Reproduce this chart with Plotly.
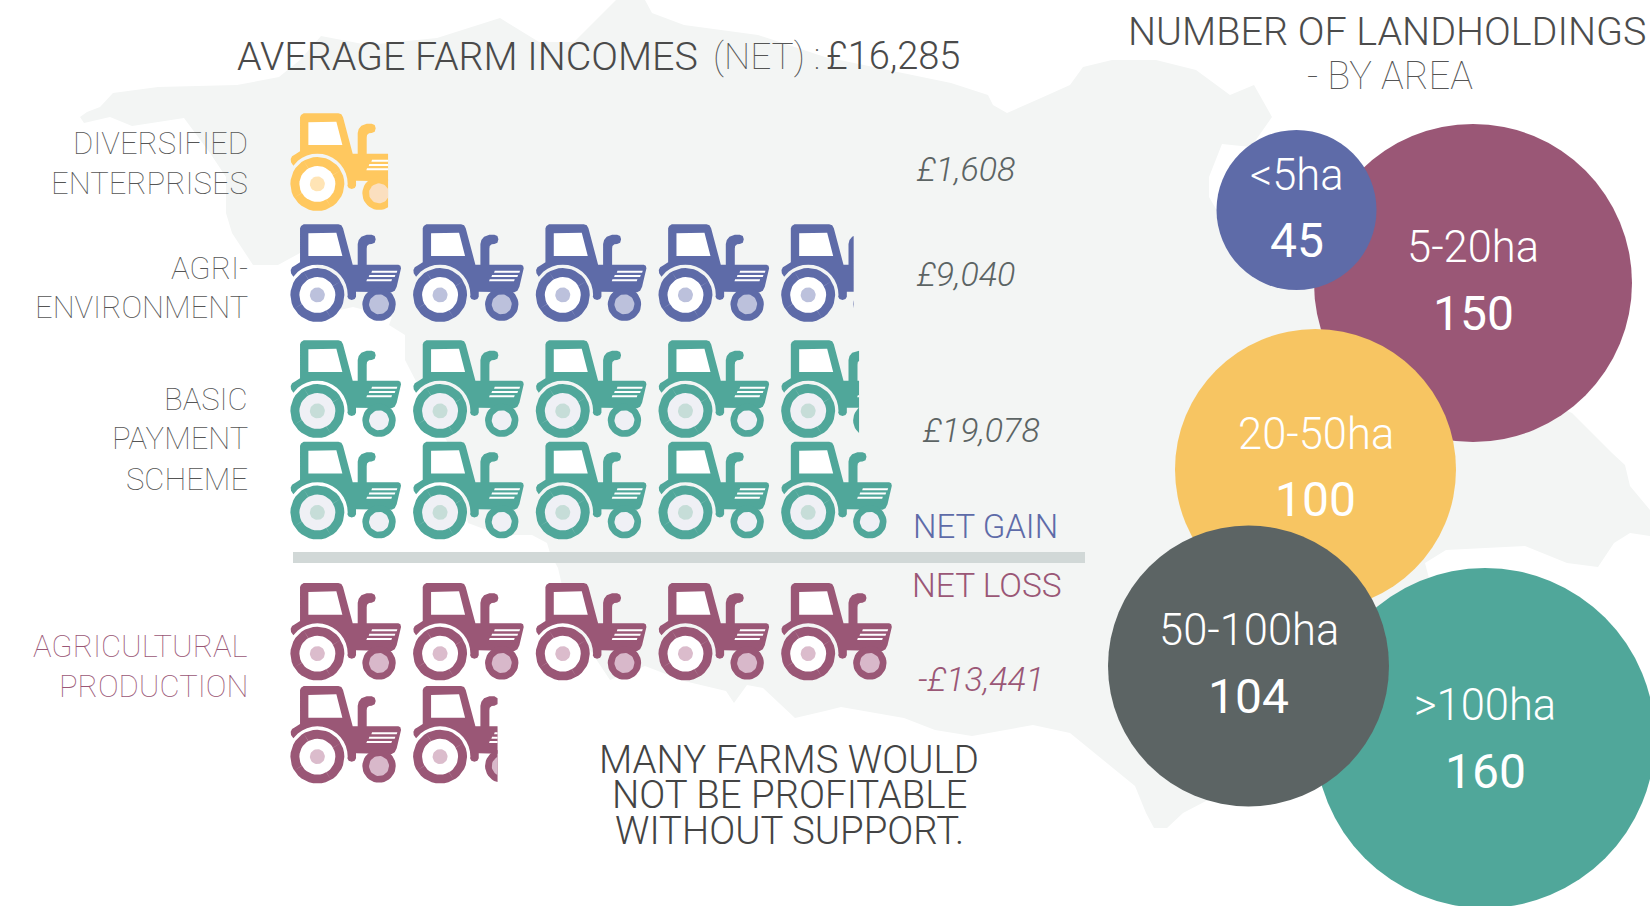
import math
import plotly.graph_objects as go

# ---------- data ----------
income_categories = ["Diversified enterprises", "Agri-environment", "Basic payment scheme", "Agricultural production"]
income_labels = ["£1,608", "£9,040", "£19,078", "-£13,441"]
# tractors drawn in each pictogram row (category index, count)
row_category = [0, 1, 2, 2, 3, 3]
row_tractors = [0.885, 4.656, 4.705, 5, 5, 1.765]

holding_labels = ["5-20ha", "<5ha", "20-50ha", ">100ha", "50-100ha"]
holding_values = [150, 45, 100, 160, 104]

# ---------- layout / style ----------
W, H = 1650, 906
MAP = "#f3f5f4"
BLUE, PURPLE, YELLOW, TEAL, DARK = "#5e6ba8", "#9a5776", "#f7c562", "#50a79a", "#5c6464"
cat_colors = ["#ffc85f", BLUE, TEAL, PURPLE]
cat_hub = ["#ffe4b5", "#bcc1dc", "#c6ddd8", "#dbbccc"]
cat_front = ["#fbdfbf", "#bcc1dc", "#eff0f5", "#d8b8ca"]
cat_inner = ["#ffffff", "#ffffff", "#eff0f5", "#ffffff"]
row_tops = [113.3, 224.3, 340.3, 441.8, 583, 686]
row_left, pitch, tractor_w = 290.7, 122.7, 110

bubble_x = [1473, 1296.5, 1315.5, 1485, 1248.5]
bubble_y = [283, 210, 469.5, 738, 666]
bubble_d = [318, 160, 281, 340, 281]
bubble_colors = [PURPLE, BLUE, YELLOW, TEAL, DARK]
bubble_label_y = [247, 175, 434, 705, 630]
bubble_value_y = [313, 240, 499, 771, 696]

map_outline = [
    (80,117),(87,112),(100,107),(113,93),(158,87),(237,85),(279,77),(300,60),(321,36),(368,45),(437,38),
    (500,18),(539,42),(574,42),(616,0),(645,0),(652,13),(684,25),(758,35),(825,57),(951,83),(988,95),
    (993,105),(1007,113),(1041,98),(1070,85),(1083,67),(1112,60),(1156,60),(1196,70),(1230,95),(1254,85),
    (1272,117),(1251,147),(1222,144),(1209,177),(1209,197),(1240,250),(1500,380),(1572,413),(1612,453),
    (1625,465),(1630,486),(1650,510),(1650,536),(1630,533),(1614,543),(1598,567),(1567,563),(1525,546),
    (1446,550),(1425,563),(1440,620),(1300,760),(1206,801),(1183,813),(1167,828),(1154,828),(1146,813),
    (1135,786),(1070,733),(1033,725),(972,736),(935,730),(904,718),(841,707),(825,711),(795,718),(763,688),
    (747,685),(734,703),(726,691),(684,681),(645,666),(610,680),(570,620),(558,568),(550,553),(547,543),
    (532,535),(500,535),(468,523),(453,453),(405,360),(405,335),(389,325),(392,317),(353,307),(340,310),
    (338,300),(320,270),(300,253),(278,265),(253,265),(232,233),(226,213),(226,177),(210,153),(184,118),
    (132,126),(110,117),(84,123),
]


# ---------- tractor glyph, in its own 110 x 97.5 box ----------
def Z(zx, zy):
    return ((zx - 62) / 3, (zy - 373) / 3)


def circle(cx, cy, r, n=40):
    return [(cx + r * math.cos(2 * math.pi * i / n), cy + r * math.sin(2 * math.pi * i / n)) for i in range(n)]


REAR = Z(142, 585)
FRONT = Z(327, 613)
_arc = [(142 + 91 * math.cos(math.radians(a)), 585 - 91 * math.sin(math.radians(a))) for a in range(0, 141, 10)]
BODY = [Z(*p) for p in [
    (62, 510), (66, 502), (76, 496), (90, 487), (90, 385), (93, 378), (101, 373), (205, 373), (214, 376), (219, 385),
    (248, 494), (263, 494), (263, 432), (266, 420), (274, 410), (290, 404), (305, 404), (314, 408), (317, 418),
    (314, 428), (305, 432), (297, 433), (291, 438), (290, 446), (290, 494), (385, 494), (391, 497), (393, 505),
    (380, 560), (374, 572), (365, 577), (258, 575), (258, 590), (254, 597), (245, 600), (236, 597), (232, 590),
] + _arc + [(70, 530), (63, 520)]]
WINDOW = [Z(*p) for p in [(115, 400), (199, 398), (217, 468), (115, 468)]]
VENTS = [[Z(*p) for p in v] for v in [
    [(306, 512), (382, 512), (380, 518), (304, 518)],
    [(298, 525), (376, 525), (374, 531), (296, 531)],
    [(291, 538), (366, 538), (364, 544), (289, 544)],
]]
SPOKES = []
for k in range(12):
    a = 2 * math.pi * k / 12
    c, s = math.cos(a), math.sin(a)
    SPOKES.append([
        (REAR[0] + r * c + o * -s, REAR[1] + r * s + o * c)
        for r, o in [(17.5, -0.3), (27, -0.3), (27, 0.3), (17.5, 0.3)]
    ])


def clip_right(poly, xc):
    out = []
    for i, p in enumerate(poly):
        q = poly[(i + 1) % len(poly)]
        pin, qin = p[0] <= xc, q[0] <= xc
        if pin:
            out.append(p)
        if pin != qin:
            t = (xc - p[0]) / (q[0] - p[0])
            out.append((xc, p[1] + t * (q[1] - p[1])))
    return out


def add_polys(fig, polys, color):
    xs, ys = [], []
    for poly in polys:
        if not poly:
            continue
        xs += [p[0] for p in poly] + [poly[0][0], None]
        ys += [p[1] for p in poly] + [poly[0][1], None]
    fig.add_trace(go.Scatter(x=xs, y=ys, mode="lines", fill="toself", fillcolor=color, line=dict(width=0),
                             hoverinfo="skip", showlegend=False))


fig = go.Figure()
add_polys(fig, [map_outline], MAP)


def row_layer(top, count, parts):
    polys = []
    for i in range(math.ceil(count)):
        x0 = row_left + i * pitch
        limit = tractor_w * min(1, count - i) + 0.01
        if count - i >= 1:
            limit = 1e6
        for part in parts:
            polys.append([(x0 + p[0], top + p[1]) for p in clip_right(part, limit)])
    return polys


for cat, top, count in zip(row_category, row_tops, row_tractors):
    add_polys(fig, row_layer(top, count, [BODY]), cat_colors[cat])
    add_polys(fig, row_layer(top, count, [circle(*REAR, 27), circle(*FRONT, 16.7)]), cat_colors[cat])
    add_polys(fig, row_layer(top, count, SPOKES), "rgba(255,255,255,0.3)")
    add_polys(fig, row_layer(top, count, [WINDOW] + VENTS), "#ffffff")
    add_polys(fig, row_layer(top, count, [circle(*REAR, 18)]), cat_inner[cat])
    add_polys(fig, row_layer(top, count, [circle(*FRONT, 10)]), cat_front[cat])
    add_polys(fig, row_layer(top, count, [circle(*REAR, 7.5)]), cat_hub[cat])

for x, y, d, c in zip(bubble_x, bubble_y, bubble_d, bubble_colors):
    fig.add_trace(go.Scatter(x=[x], y=[y], mode="markers", marker=dict(size=d, color=c, line=dict(width=0), opacity=1),
                             hoverinfo="skip", showlegend=False))

FONT = "Roboto"


def label(text, x, y, size, color, anchor="center", weight=300, italic=False):
    fig.add_annotation(x=x, y=y, xref="x", yref="y", text=text, showarrow=False, xanchor=anchor, yanchor="middle",
                       font=dict(family=FONT, size=size, color=color, weight=weight,
                                 style="italic" if italic else "normal"))


GRAY = "#555555"
label("AVERAGE FARM INCOMES", 700, 56, 39.4, "#4a4a4a", "right", 300)
label("(NET) :", 711, 56, 37, "#555555", "left", 100)
label("£16,285", 824, 56, 38, "#4a4a4a", "left", 300)
label("NUMBER OF LANDHOLDINGS", 1649, 31, 39.5, "#4c4c4c", "right", 300)
label("- BY AREA", 1390, 76, 38, "#555555", "center", 100)

for txt, y, col in [("DIVERSIFIED", 143, GRAY), ("ENTERPRISES", 183, GRAY), ("AGRI-", 268, GRAY),
                    ("ENVIRONMENT", 307, GRAY), ("BASIC", 399, GRAY), ("PAYMENT", 438, GRAY),
                    ("SCHEME", 479, GRAY), ("AGRICULTURAL", 646, PURPLE), ("PRODUCTION", 686, PURPLE)]:
    label(txt, 250, y, 31, col, "right", 100)

for txt, x, y, col in zip(income_labels, [965, 965, 981, 981], [169, 274, 430, 679], [DARK, DARK, DARK, PURPLE]):
    label(txt, x, y, 34, col, "center", 300, True)

label("NET GAIN", 985, 526, 33, BLUE, "center", 300)
label("NET LOSS", 987, 585, 33.5, PURPLE, "center", 300)
for txt, y in [("MANY FARMS WOULD", 759), ("NOT BE PROFITABLE", 794), ("WITHOUT SUPPORT.", 830)]:
    label(txt, 789, y, 38.4, "#444444", "center", 300)

for name, val, x, ly, vy in zip(holding_labels, holding_values, bubble_x, bubble_label_y, bubble_value_y):
    label(name, x, ly, 43.5, "#ffffff", "center", 300)
    label(str(val), x, vy, 48, "#ffffff", "center", 400)

fig.add_shape(type="rect", x0=293, x1=1085, y0=552, y1=563, xref="x", yref="y", fillcolor="#d1d8d7",
              line=dict(width=0), layer="above")

fig.update_layout(
    width=W, height=H, margin=dict(l=0, r=0, t=0, b=0), paper_bgcolor="white", plot_bgcolor="white",
    showlegend=False,
    xaxis=dict(range=[0, W], visible=False, fixedrange=True),
    yaxis=dict(range=[H, 0], visible=False, fixedrange=True),
)
fig.write_html("out.html", post_script="document.body.style.margin='0';document.documentElement.style.overflow='hidden';",
               config={"displayModeBar": False})
